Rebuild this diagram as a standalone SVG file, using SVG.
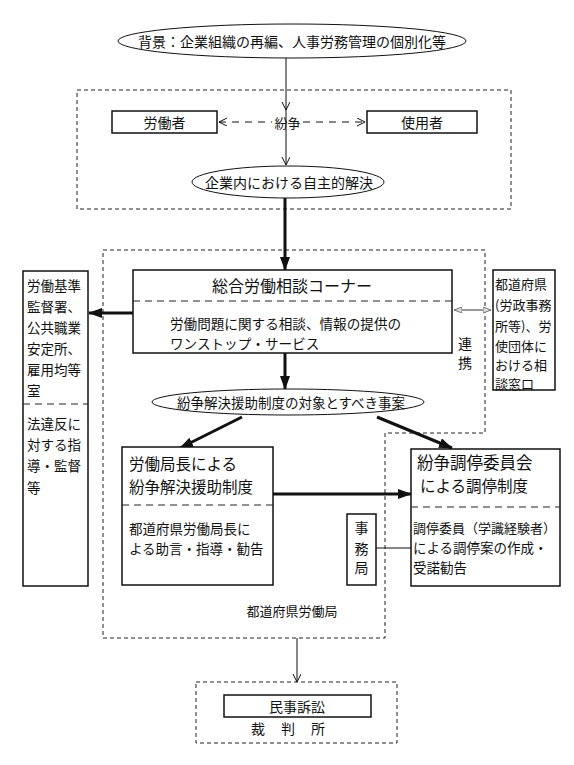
<svg xmlns="http://www.w3.org/2000/svg" width="574" height="765" viewBox="0 0 574 765">
<style>
text{font-family:"Noto Sans CJK JP","Noto Sans CJK SC",sans-serif;fill:#111;dominant-baseline:central}
.box{fill:#fff;stroke:#111;stroke-width:1.5}
.reg{fill:none;stroke:#222;stroke-width:1;stroke-dasharray:4,3}
.div{stroke:#222;stroke-width:1;stroke-dasharray:7,5}
.thin{stroke:#111;stroke-width:1;fill:none}
.thick{stroke:#111;stroke-width:3;fill:none}
.s13{font-size:13.5px}
.s14{font-size:14px}
.r13{font-size:13px}
</style>
<defs>
<marker id="fa" markerUnits="userSpaceOnUse" markerWidth="14" markerHeight="10" refX="13" refY="5" orient="auto">
<path d="M0,0 L14,5 L0,10 z" fill="#111"/>
</marker>
<marker id="oa" markerUnits="userSpaceOnUse" markerWidth="10" markerHeight="10" refX="8" refY="4" orient="auto-start-reverse">
<path d="M0,0 L8,4 L0,8" fill="none" stroke="#111" stroke-width="1"/>
</marker>
<marker id="ga" markerUnits="userSpaceOnUse" markerWidth="10" markerHeight="8" refX="8" refY="3" orient="auto-start-reverse">
<path d="M0,0 L8,3 L0,6 z" fill="#ddd" stroke="#777" stroke-width="1"/>
</marker>
</defs>

<g id="regions">
<rect class="reg" x="77" y="90" width="434" height="119"/>
<path class="reg" d="M103,250 H485 V433 H385 V638 H103 Z"/>
<rect class="reg" x="196" y="682" width="201" height="61"/>
</g>

<g id="connectors">
<line class="thin" x1="286" y1="58" x2="286" y2="110" marker-end="url(#oa)"/>
<line class="thin" x1="286" y1="110" x2="286" y2="165" marker-end="url(#oa)"/>
<line class="thin" x1="219" y1="122" x2="272" y2="122" stroke-dasharray="7,6" marker-start="url(#oa)"/>
<line class="thin" x1="303" y1="122" x2="365" y2="122" stroke-dasharray="7,6" marker-end="url(#oa)"/>
<line class="thick" x1="285" y1="198" x2="285" y2="270" marker-end="url(#fa)"/>
<line class="thick" x1="133" y1="313" x2="89" y2="313" marker-end="url(#fa)"/>
<line x1="454" y1="310" x2="491" y2="310" stroke="#777" stroke-width="1.5" marker-start="url(#ga)" marker-end="url(#ga)"/>
<line class="thick" x1="285" y1="353" x2="285" y2="389" marker-end="url(#fa)"/>
<line class="thick" x1="242" y1="417" x2="180" y2="448" marker-end="url(#fa)"/>
<line class="thick" x1="377" y1="417" x2="452" y2="448" marker-end="url(#fa)"/>
<line class="thick" x1="273" y1="494" x2="411" y2="494" marker-end="url(#fa)"/>
<line class="thin" x1="376" y1="548" x2="411" y2="548"/>
<line class="thin" x1="297" y1="638" x2="297" y2="682" marker-end="url(#oa)"/>
</g>

<g id="background">
<ellipse cx="292" cy="41" rx="174" ry="17" fill="#fff" stroke="#111" stroke-width="1"/>
<text class="s14" x="292" y="41" text-anchor="middle">背景：企業組織の再編、人事労務管理の個別化等</text>
</g>

<g id="worker">
<rect class="box" x="112" y="111" width="105" height="22"/>
<text class="s14" x="164.5" y="122" text-anchor="middle">労働者</text>
</g>

<g id="employer">
<rect class="box" x="367" y="111" width="110" height="22"/>
<text class="s14" x="422" y="122" text-anchor="middle">使用者</text>
</g>

<g id="dispute">
<text x="287.5" y="122" text-anchor="middle" style="font-size:13px">紛争</text>
</g>

<g id="self-resolution">
<ellipse cx="288" cy="182" rx="96" ry="16" fill="#fff" stroke="#111" stroke-width="1"/>
<text class="s14" x="289" y="182" text-anchor="middle">企業内における自主的解決</text>
</g>

<g id="corner">
<rect class="box" x="133" y="270" width="319" height="83"/>
<line class="div" x1="133" y1="301" x2="452" y2="301"/>
<text x="292" y="285" text-anchor="middle" style="font-size:16px">総合労働相談コーナー</text>
<text x="170" y="323" style="font-size:13.6px">労働問題に関する相談、情報の提供の</text>
<text x="170" y="343" style="font-size:13.6px">ワンストップ・サービス</text>
</g>

<g id="left-offices">
<rect class="box" x="23" y="271" width="65" height="315"/>
<line class="div" x1="23" y1="404" x2="88" y2="404"/>
<text class="s13" x="27" y="285">労働基準</text>
<text class="s13" x="27" y="306">監督署、</text>
<text class="s13" x="27" y="327">公共職業</text>
<text class="s13" x="27" y="348">安定所、</text>
<text class="s13" x="27" y="369">雇用均等</text>
<text class="s13" x="27" y="390">室</text>
<text class="s13" x="27" y="423">法違反に</text>
<text class="s13" x="27" y="444">対する指</text>
<text class="s13" x="27" y="465">導・監督</text>
<text class="s13" x="27" y="487">等</text>
</g>

<g id="right-offices">
<rect class="box" x="493" y="270" width="62" height="120"/>
<text class="r13" x="495" y="283">都道府県</text>
<text class="r13" x="495" y="304">(労政事務</text>
<text class="r13" x="495" y="325">所等)、労</text>
<text class="r13" x="495" y="345">使団体に</text>
<text class="r13" x="495" y="364">おける相</text>
<text class="r13" x="495" y="383">談窓口</text>
</g>

<g id="cooperation">
<text class="s14" x="465" y="343" text-anchor="middle">連</text>
<text class="s14" x="465" y="362" text-anchor="middle">携</text>
</g>

<g id="target-cases">
<ellipse cx="288" cy="402" rx="136" ry="13" fill="#fff" stroke="#111" stroke-width="1"/>
<text class="s13" x="291" y="402" text-anchor="middle">紛争解決援助制度の対象とすべき事案</text>
</g>

<g id="director-assist">
<rect class="box" x="122" y="447" width="151" height="138"/>
<line class="div" x1="122" y1="505" x2="273" y2="505"/>
<text x="129" y="463" style="font-size:15.5px">労働局長による</text>
<text x="129" y="486" style="font-size:15.5px">紛争解決援助制度</text>
<text class="s13" x="129" y="528">都道府県労働局長に</text>
<text class="s13" x="129" y="548">よる助言・指導・勧告</text>
</g>

<g id="mediation">
<rect class="box" x="411" y="449" width="149" height="137"/>
<line class="div" x1="411" y1="507" x2="560" y2="507"/>
<text x="417" y="462" style="font-size:16.5px">紛争調停委員会</text>
<text x="420" y="485" style="font-size:15.5px">による調停制度</text>
<text x="413" y="527" style="font-size:13px">調停委員（学識経験者）</text>
<text x="413" y="547" style="font-size:13.5px">による調停案の作成・</text>
<text x="413" y="567" style="font-size:13.5px">受諾勧告</text>
</g>

<g id="secretariat">
<rect class="box" x="347" y="514" width="29" height="71"/>
<text class="s14" x="361.5" y="527" text-anchor="middle">事</text>
<text class="s14" x="361.5" y="548" text-anchor="middle">務</text>
<text class="s14" x="361.5" y="567" text-anchor="middle">局</text>
</g>

<g id="labour-bureau-label">
<text x="292" y="610" text-anchor="middle" style="font-size:13px">都道府県労働局</text>
</g>

<g id="court">
<rect class="box" x="224" y="695" width="147" height="22"/>
<text class="s14" x="297" y="706" text-anchor="middle">民事訴訟</text>
<text class="s14" x="296" y="728" text-anchor="middle" letter-spacing="16">裁判所</text>
</g>
</svg>
